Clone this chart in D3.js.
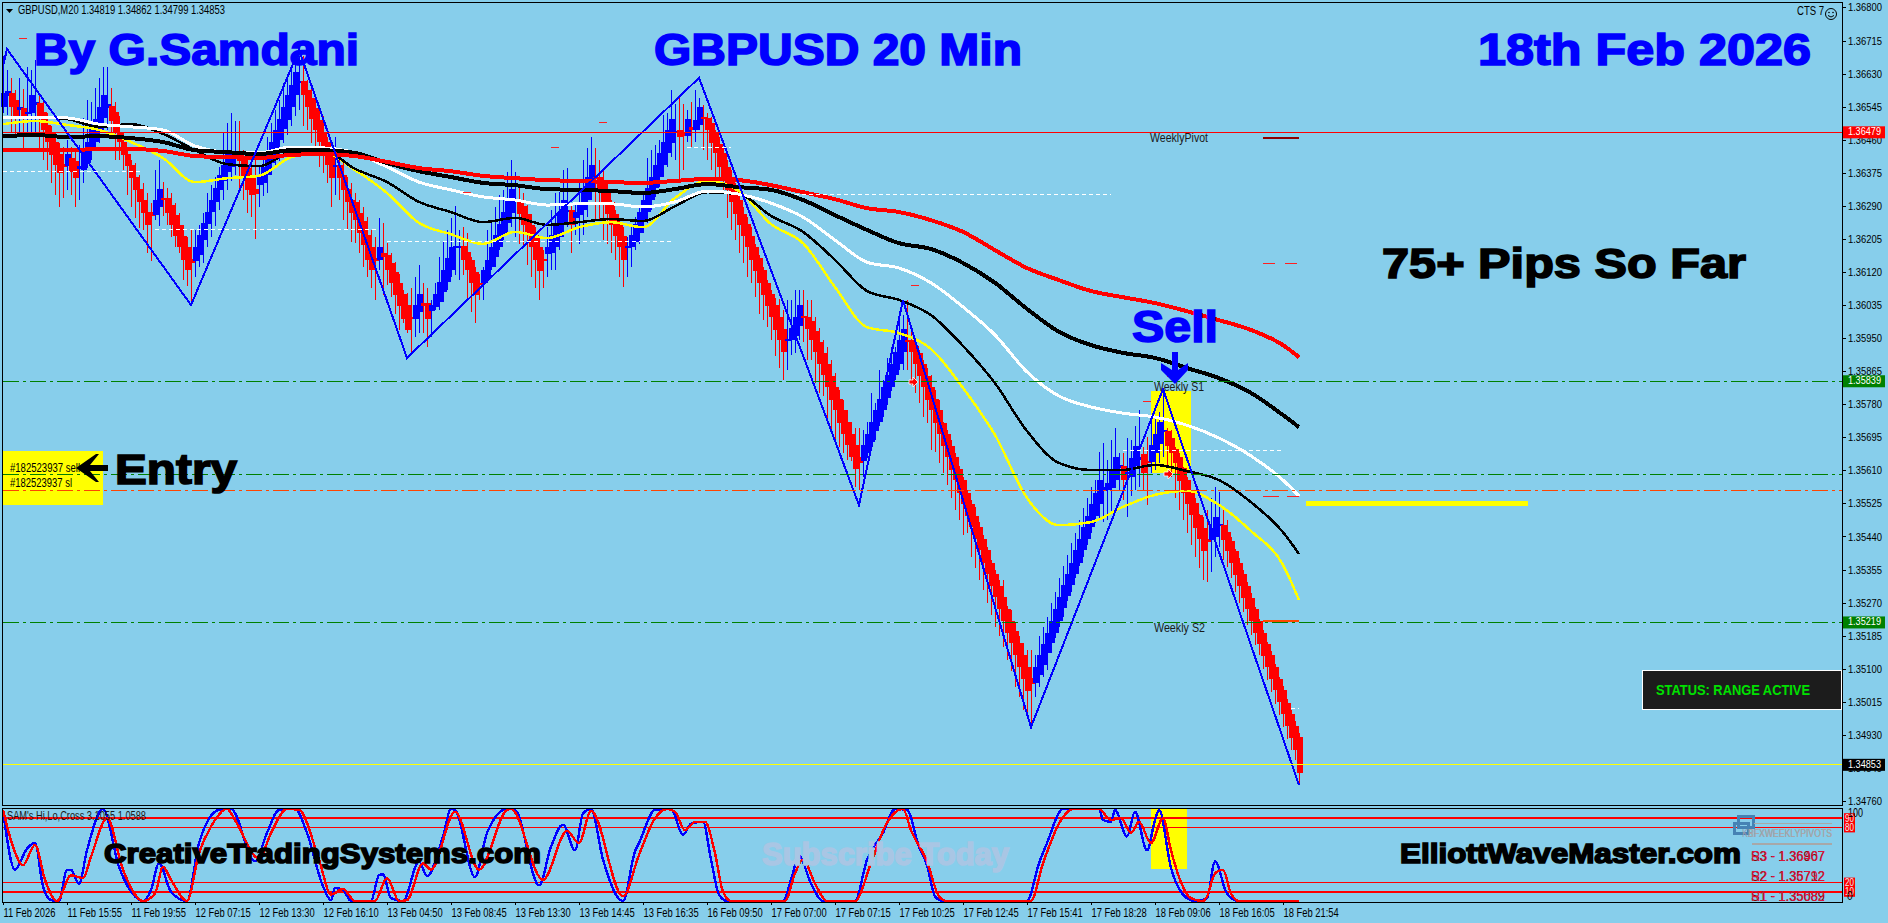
<!DOCTYPE html>
<html><head><meta charset="utf-8">
<script src="https://cdnjs.cloudflare.com/ajax/libs/d3/7.8.5/d3.min.js"></script>
<style>html,body{margin:0;padding:0;background:#87CEEB;overflow:hidden}svg{display:block}</style>
</head><body><svg id="c" width="1888" height="923"></svg>
<script>
// Prices in points above 1.30000 (6479 = 1.36479). One entry per 20-minute bar.
const bodyHi=[
6580,6586,6581,6562,6544,6541,6532,6575,6558,6554,
6532,6498,6477,6453,6424,6398,6424,6412,6404,6393,
6430,6455,6490,6513,6544,6575,6552,6547,6532,6481,
6453,6424,6395,6365,6333,6305,6275,6274,6305,6333,
6310,6310,6293,6267,6241,6213,6185,6153,6185,6215,
6245,6273,6305,6335,6370,6395,6424,6430,6421,6425,
6417,6387,6361,6333,6365,6391,6424,6453,6485,6513,
6545,6575,6601,6633,6610,6610,6588,6567,6541,6511,
6481,6453,6425,6395,6395,6370,6333,6305,6301,6271,
6250,6215,6185,6155,6185,6168,6164,6142,6120,6091,
6063,6035,6003,6035,6063,6039,6039,6035,6063,6095,
6125,6155,6185,6187,6187,6187,6172,6150,6120,6091,
6125,6152,6185,6215,6243,6275,6305,6332,6306,6303,
6289,6270,6241,6215,6185,6154,6185,6215,6241,6275,
6305,6279,6279,6275,6300,6330,6365,6395,6365,6363,
6348,6330,6300,6270,6243,6213,6186,6215,6243,6275,
6305,6335,6365,6395,6425,6455,6485,6512,6482,6485,
6480,6512,6492,6510,6543,6519,6516,6502,6480,6450,
6425,6390,6365,6330,6305,6270,6243,6213,6183,6155,
6125,6092,6063,6035,6004,5973,5947,5975,6004,6035,
6007,6005,5993,5967,5941,5911,5884,5853,5824,5793,
5764,5735,5704,5675,5645,5675,5704,5735,5765,5793,
5824,5855,5884,5915,5945,5973,5945,5945,5930,5911,
5884,5853,5824,5793,5764,5733,5704,5673,5644,5613,
5584,5553,5524,5493,5464,5433,5404,5373,5344,5313,
5284,5253,5224,5196,5166,5136,5104,5076,5104,5136,
5164,5193,5224,5253,5284,5316,5344,5373,5404,5433,
5464,5493,5524,5553,5584,5568,5577,5613,5644,5624,
5621,5607,5641,5673,5645,5652,5633,5675,5703,5735,
5714,5712,5692,5666,5645,5615,5585,5552,5525,5495,
5463,5433,5461,5491,5472,5469,5452,5429,5403,5373,
5343,5313,5283,5253,5223,5193,5163,5135,5104,5073,
5045,5012,4984,4953,4925];
const bodyLo=[
6545,6573,6544,6520,6537,6520,6528,6528,6550,6520,
6485,6453,6421,6395,6374,6391,6393,6378,6361,6384,
6381,6400,6434,6455,6481,6515,6541,6507,6481,6453,
6421,6393,6361,6331,6301,6271,6241,6263,6267,6287,
6305,6271,6241,6213,6185,6151,6125,6143,6147,6164,
6201,6244,6273,6301,6331,6353,6376,6389,6417,6404,
6361,6331,6318,6321,6344,6348,6370,6400,6434,6460,
6487,6511,6544,6575,6605,6575,6544,6513,6485,6453,
6442,6395,6361,6389,6361,6331,6301,6271,6254,6220,
6190,6151,6125,6149,6151,6158,6125,6091,6061,6032,
6000,5971,5998,6000,6018,6032,6000,6020,6031,6043,
6069,6095,6125,6181,6181,6152,6125,6091,6061,6086,
6091,6103,6133,6159,6185,6215,6245,6272,6303,6270,
6241,6215,6185,6152,6123,6150,6166,6168,6183,6211,
6245,6275,6241,6258,6266,6279,6305,6335,6361,6326,
6300,6270,6241,6213,6185,6150,6183,6185,6198,6219,
6249,6275,6305,6335,6365,6395,6425,6452,6479,6466,
6469,6469,6485,6485,6498,6512,6485,6452,6425,6390,
6365,6330,6300,6270,6241,6213,6183,6152,6123,6092,
6061,6032,6004,5971,5944,5913,5944,5944,5956,5980,
6004,5973,5944,5913,5884,5855,5824,5791,5764,5733,
5704,5675,5645,5613,5630,5635,5654,5684,5710,5735,
5764,5795,5825,5855,5884,5913,5942,5913,5884,5853,
5824,5791,5764,5733,5704,5673,5644,5611,5584,5553,
5524,5493,5464,5433,5404,5373,5344,5313,5284,5253,
5224,5193,5166,5136,5104,5073,5044,5061,5064,5084,
5110,5140,5166,5193,5224,5256,5286,5316,5344,5373,
5404,5433,5464,5493,5524,5556,5560,5564,5586,5616,
5584,5603,5594,5620,5637,5604,5628,5632,5654,5679,
5709,5672,5654,5628,5583,5552,5523,5495,5463,5433,
5403,5426,5431,5439,5469,5431,5403,5373,5341,5313,
5283,5253,5223,5193,5163,5133,5104,5073,5045,5015,
4984,4953,4922,4891,4832];
const highs=[
6674,6640,6618,6588,6618,6590,6648,6640,6665,6580,
6558,6528,6494,6477,6451,6442,6460,6442,6434,6447,
6515,6562,6558,6592,6618,6648,6648,6592,6558,6520,
6477,6434,6408,6400,6370,6348,6322,6297,6382,6408,
6352,6335,6322,6297,6271,6241,6211,6228,6228,6241,
6271,6322,6344,6365,6391,6477,6502,6528,6507,6507,
6434,6408,6391,6434,6391,6425,6468,6502,6537,6562,
6605,6627,6648,6657,6674,6674,6614,6597,6567,6545,
6520,6468,6442,6468,6434,6408,6365,6348,6322,6305,
6288,6262,6228,6211,6258,6245,6194,6168,6146,6116,
6073,6065,6078,6108,6138,6091,6078,6048,6091,6159,
6198,6228,6258,6289,6228,6236,6219,6159,6133,6116,
6133,6228,6253,6288,6318,6330,6378,6409,6378,6343,
6322,6292,6270,6236,6211,6176,6236,6279,6322,6326,
6382,6386,6296,6296,6356,6408,6438,6468,6438,6408,
6386,6352,6305,6279,6253,6236,6211,6236,6262,6292,
6318,6412,6433,6446,6459,6523,6528,6589,6553,6575,
6553,6536,6558,6588,6566,6549,6528,6519,6485,6468,
6442,6408,6382,6348,6322,6288,6262,6236,6193,6163,
6133,6099,6073,6053,6050,6023,6048,6048,6074,6074,
6074,6048,6048,6005,5975,5945,5928,5894,5860,5817,
5791,5765,5735,5718,5718,5714,5735,5808,5783,5868,
5843,5898,5928,5928,5997,6010,6048,5971,5933,5920,
5894,5873,5855,5817,5791,5735,5714,5688,5654,5620,
5594,5560,5534,5517,5478,5444,5414,5380,5354,5328,
5328,5260,5251,5217,5183,5166,5149,5149,5136,5183,
5208,5234,5268,5298,5333,5363,5393,5423,5448,5483,
5513,5538,5568,5586,5658,5680,5637,5688,5718,5654,
5654,5693,5688,5723,5765,5671,5697,5739,5748,5761,
5816,5718,5714,5671,5654,5619,5594,5559,5538,5499,
5491,5508,5538,5568,5555,5512,5482,5439,5409,5384,
5354,5324,5294,5259,5229,5199,5170,5145,5112,5080,
5055,5022,4994,4965,4935];
const lows=[
6528,6524,6477,6472,6477,6434,6477,6477,6477,6434,
6408,6382,6348,6318,6288,6310,6331,6318,6288,6305,
6348,6387,6408,6434,6451,6485,6485,6477,6408,6408,
6382,6318,6288,6258,6233,6228,6168,6147,6254,6237,
6263,6241,6211,6185,6168,6100,6083,6040,6108,6134,
6143,6185,6211,6237,6280,6305,6331,6353,6370,6322,
6305,6271,6262,6205,6288,6314,6322,6370,6391,6404,
6451,6472,6494,6520,6537,6494,6485,6451,6425,6391,
6374,6348,6288,6318,6305,6254,6228,6198,6194,6168,
6134,6108,6078,6048,6125,6061,6087,6056,6013,5971,
5988,5962,5911,5953,5962,5962,5928,5953,6022,6022,
6043,6073,6108,6112,6099,6112,6052,6018,5988,6048,
6048,6091,6125,6133,6176,6202,6219,6236,6211,6193,
6185,6138,6108,6078,6048,6078,6108,6125,6125,6176,
6211,6236,6168,6215,6193,6215,6262,6305,6253,6253,
6202,6193,6168,6150,6108,6082,6108,6133,6176,6193,
6219,6245,6279,6313,6339,6365,6390,6416,6408,6356,
6382,6455,6442,6455,6485,6433,6408,6382,6356,6348,
6322,6258,6228,6202,6168,6142,6108,6091,6056,6013,
5996,5979,5945,5903,5873,5843,5868,5907,5911,5945,
5941,5894,5894,5834,5808,5800,5744,5714,5688,5671,
5654,5637,5633,5568,5560,5594,5641,5671,5688,5723,
5748,5778,5813,5843,5868,5868,5868,5830,5808,5783,
5748,5731,5663,5658,5628,5603,5573,5538,5508,5483,
5444,5448,5388,5358,5328,5303,5268,5238,5208,5183,
5157,5123,5093,5054,5028,4994,4977,4951,5028,5054,
5080,5097,5140,5178,5208,5234,5273,5298,5333,5363,
5388,5418,5448,5474,5483,5478,5483,5500,5564,5560,
5534,5491,5543,5560,5568,5560,5521,5602,5611,5628,
5645,5615,5594,5538,5508,5482,5448,5418,5388,5358,
5328,5324,5349,5388,5414,5379,5362,5332,5298,5268,
5247,5212,5187,5161,5135,5100,5070,5040,5010,4980,
4950,4920,4890,4865,4800];
// bar ranges closing up; all others close down
const upRanges=[[0,1],[4,4],[6,8],[16,16],[19,26],[38,39],[48,58],[64,74],[83,83],[94,94],[103,104],[107,114],[120,128],[136,141],[143,147],[156,168],[171,171],[173,174],[196,199],[215,225],[258,279],[281,284],[287,290],[302,304]];

const zigzagBars=[0,1,47,74,101,174,214,225,257,290,324];
const zigzagVals=[6649,6693,6035,6691,5899,6619,5521,6048,4950,5819,4801];

// moving averages, read every 8 bars
const maBars=[0,8,16,24,32,40,48,56,64,72,80,88,96,104,112,120,128,136,144,152,160,168,176,184,192,200,208,216,224,232,240,248,256,264,272,280,288,296,304,312,320,324];
const maRed=[6433,6433,6433,6436,6436,6431,6418,6415,6413,6421,6423,6418,6403,6387,6379,6367,6361,6356,6354,6351,6349,6354,6359,6356,6343,6325,6307,6284,6274,6253,6223,6176,6130,6099,6071,6055,6040,6019,5996,5971,5932,5901];
const maBlackThick=[6469,6472,6467,6469,6464,6454,6433,6428,6423,6433,6433,6426,6400,6379,6364,6349,6343,6333,6331,6328,6323,6333,6346,6338,6331,6305,6266,6228,6194,6179,6143,6092,6025,5966,5932,5912,5899,5873,5847,5809,5752,5721];
const maWhite=[6516,6518,6516,6500,6493,6485,6444,6428,6426,6441,6439,6426,6390,6351,6331,6313,6305,6292,6295,6295,6287,6300,6328,6320,6297,6261,6202,6145,6130,6092,6030,5958,5863,5801,5773,5757,5747,5726,5693,5647,5585,5544];
const maBlackThin=[6518,6518,6513,6493,6500,6475,6433,6397,6392,6428,6433,6385,6351,6300,6274,6248,6259,6241,6248,6256,6251,6289,6325,6320,6264,6223,6151,6071,6048,6009,5930,5834,5711,5629,5611,5611,5624,5608,5585,5528,5451,5395];
const maYellow=[6500,6508,6498,6485,6454,6413,6351,6361,6367,6415,6428,6382,6323,6246,6217,6192,6223,6207,6235,6248,6235,6310,6354,6328,6243,6194,6081,5978,5963,5922,5822,5701,5539,5469,5477,5516,5547,5557,5521,5454,5367,5277];

// Hi-Lo cross oscillator turning points: bar, value
const oscBlue=[[0,99],[3,34],[6,57],[8,63],[10,16],[12,1],[14,0],[16,34],[17,34],[19,19],[21,55],[25,100],[29,37],[33,5],[35,0],[37,12],[39,41],[42,10],[46,0],[49,63],[54,99],[57,100],[63,43],[66,74],[69,99],[73,100],[76,74],[80,16],[82,1],[83,14],[85,12],[87,0],[92,0],[94,28],[95,29],[97,3],[100,0],[104,43],[106,27],[110,70],[112,100],[113,99],[118,26],[121,74],[126,100],[128,99],[134,17],[137,59],[140,83],[143,55],[145,95],[147,100],[150,45],[155,0],[158,54],[159,63],[163,99],[167,100],[170,72],[172,84],[175,86],[177,45],[179,7],[181,0],[195,0],[197,23],[199,49],[202,19],[205,0],[213,0],[216,45],[220,74],[223,100],[226,99],[229,59],[231,39],[233,5],[235,0],[256,0],[259,41],[261,63],[265,100],[274,100],[275,88],[277,86],[278,99],[281,70],[283,97],[286,55],[288,88],[289,99],[292,36],[296,3],[298,0],[301,3],[303,43],[306,8],[309,0],[324,0]];
const oscRed=[[0,99],[2,66],[5,39],[8,61],[10.5,23],[13.5,0],[17,28],[20,25],[22,48],[26,90],[30,34],[35,0],[38,8],[40,37],[42,23],[46,0],[49,52],[52,81],[56,100],[58,88],[64,46],[67,74],[71,100],[74,99],[79,45],[82,7],[85,13],[88,0],[93,0],[96,25],[99,0],[101,1],[105,41],[107,34],[113,97],[119,34],[126,99],[127,100],[135,23],[141,76],[144,63],[147,98],[155,5],[159,50],[163,90],[166,100],[168,97],[170.5,77],[173,86],[175.5,86],[178,52],[180,10],[182,0],[195.5,0],[198,30],[200,45],[203,19],[206,0],[213,0],[217,41],[220.5,81],[225,100],[227,77],[231,43],[234,5],[236,0],[257,0],[260,41],[264.5,88],[267.5,100],[274,100],[277,88],[279.5,90],[282,74],[284,86],[287,63],[290,90],[292,55],[294,26],[297,3],[300,0],[301,5],[303,30],[305,34],[307,8],[309,0],[324,0]];
const oscLevels=[90,80,20,10];

const priceTicks=[6800,6715,6630,6545,6460,6375,6290,6205,6120,6035,5950,5865,5780,5695,5610,5525,5440,5355,5270,5185,5100,5015,4930,4845,4760];
const timeTickBars=[0,16,32,48,64,80,96,112,128,144,160,176,192,208,224,240,256,272,288,304,320];
const timeLabels=["11 Feb 2026","11 Feb 15:55","11 Feb 19:55","12 Feb 07:15","12 Feb 13:30","12 Feb 16:10","13 Feb 04:50","13 Feb 08:45","13 Feb 13:30","13 Feb 14:45","13 Feb 16:35","16 Feb 09:50","17 Feb 07:00","17 Feb 07:15","17 Feb 10:25","17 Feb 12:45","17 Feb 15:41","17 Feb 18:28","18 Feb 09:06","18 Feb 16:05","18 Feb 21:54"];

const levelSolid=6479, levelBid=4853, levelGreenDash=[5839,5600,5219], levelOrange=5558;
const whiteSegments=[[6379,0,35],[6230,38,94],[6199,96,167],[6439,171,182],[6320,198,277],[5660,280,320],[4999,322,324]];
const redTicks=[[6719,4,6],[6505,149,151],[6441,137,139],[6325,115,117],[6086,227,229],[5788,285,287],[5850,291,293]];
const weeklyMarks=[[6464,"#8b0000",2,null],[6143,"#ff2020",1,"12 10"],[5544,"#ff2020",1,"16 8"],[5223,"#ff4500",2,null]];
const tags=[[6479,"#ff0000"],[5839,"#008000"],[5219,"#008000"],[4853,"#000000"]];
const FONT="'Liberation Sans',Arial,sans-serif", BG="#87CEEB";

const plot={l:2,t:2,r:1842,b:805}, sub={t:808,b:902};
const x=d3.scaleLinear().domain([0,324]).range([3,1299]);
const y=d3.scaleLinear().domain([6715,4760]).range([40.5,801]);
const yo=d3.scaleLinear().domain([0,100]).range([901,809]);
const fmt=v=>(1.3+v/1e5).toFixed(5);

const svg=d3.select("#c");
svg.append("rect").attr("width",1888).attr("height",923).attr("fill",BG);
const g=svg.append("g").attr("shape-rendering","crispEdges");

const isUp=i=>upRanges.some(r=>i>=r[0]&&i<=r[1]);
const fit=(sel,k)=>sel.each(function(){this.setAttribute("textLength",this.getComputedTextLength()*k);this.setAttribute("lengthAdjust","spacingAndGlyphs");});
function label(t,xp,yp,o={}){
  const e=svg.append("text").attr("x",xp).attr("y",yp).text(t)
    .attr("font-family",o.font||FONT).attr("font-size",o.size||12).attr("fill",o.fill||"#000")
    .attr("font-weight",o.weight||"normal").attr("dominant-baseline",o.base||"middle");
  if(o.k)fit(e,o.k);
  if(o.w)e.attr("textLength",o.w).attr("lengthAdjust","spacingAndGlyphs");
  if(o.stroke)e.attr("stroke",o.fill||"#000").attr("stroke-width",o.stroke);
  return e;
}
const big=(t,x0,x1,base,size,fill)=>label(t,x0,base,{size,fill,weight:"bold",w:x1-x0,base:"auto",stroke:1.6});

// highlight zones
g.append("rect").attr("x",3).attr("y",451).attr("width",100).attr("height",54).attr("fill","#ffff00");
g.append("rect").attr("x",1151).attr("y",391).attr("width",40).attr("height",82).attr("fill","#ffff00");
g.append("rect").attr("x",1151).attr("y",sub.t).attr("width",36).attr("height",61).attr("fill","#ffff00");

// "Subscribe Today" watermark sits under the oscillator
big("Subscribe Today",762,1009,865,32,"#a9c6e4");

// candles
const bars=d3.range(bodyHi.length);
g.append("g").selectAll("rect").data(bars).join("rect").attr("x",i=>Math.round(x(i))).attr("width",1)
  .attr("y",i=>y(highs[i])).attr("height",i=>y(lows[i])-y(highs[i])).attr("fill",i=>isUp(i)?"#0000ff":"#ff0000");
g.append("g").selectAll("rect").data(bars).join("rect").attr("x",i=>Math.round(x(i))-2).attr("width",6)
  .attr("y",i=>y(bodyHi[i])).attr("height",i=>Math.max(2,y(bodyLo[i])-y(bodyHi[i]))).attr("fill",i=>isUp(i)?"#0000ff":"#ff0000");

// moving averages
const maLine=d3.line().x((d,k)=>x(maBars[k])).y(d=>y(d)).curve(d3.curveMonotoneX);
[[maYellow,"#ffff00",2.5],[maBlackThin,"#000",2.5],[maWhite,"#fff",3],[maBlackThick,"#000",4],[maRed,"#ff0000",4]].forEach(([s,c,w])=>
  g.append("path").attr("d",maLine(s)).attr("fill","none").attr("stroke",c).attr("stroke-width",w));

// zigzag
const zz=d3.line().x((d,k)=>x(zigzagBars[k])).y(d=>y(d));
g.append("path").attr("d",zz(zigzagVals)).attr("fill","none").attr("stroke","#0000ff").attr("stroke-width",2);

// levels
const hline=(v,c,w,dash,b0,b1)=>g.append("line").attr("x1",b0==null?3:x(b0)).attr("x2",b1==null?plot.r:x(b1))
  .attr("y1",y(v)).attr("y2",y(v)).attr("stroke",c).attr("stroke-width",w).attr("stroke-dasharray",dash);
hline(levelSolid,"#ff0000",1);
levelGreenDash.forEach(v=>hline(v,"#008000",1,"16 4 3 4"));
hline(levelOrange,"#ff4500",1,"16 4 3 4");
hline(levelBid,"#ffff00",1);
whiteSegments.forEach(([v,a,b])=>hline(v,"#fff",1,"4 3",a,b));
redTicks.forEach(([v,a,b])=>hline(v,"#ff2020",1,null,a,b));
weeklyMarks.forEach(([v,c,w,d])=>hline(v,c,w,d,315,324));
g.append("line").attr("x1",1306).attr("x2",1528).attr("y1",y(5526)).attr("y2",y(5526)).attr("stroke","#ffff00").attr("stroke-width",5);

// oscillator
oscLevels.forEach(v=>g.append("line").attr("x1",3).attr("x2",plot.r).attr("y1",yo(v)).attr("y2",yo(v)).attr("stroke","#ff0000").attr("stroke-width",(v===90||v===10)?2:1));
const oscLine=d3.line().x(d=>x(d[0])).y(d=>yo(d[1])).curve(d3.curveMonotoneX);
g.append("path").attr("d",oscLine(oscBlue)).attr("fill","none").attr("stroke","#0000ff").attr("stroke-width",2.4);
g.append("path").attr("d",oscLine(oscRed)).attr("fill","none").attr("stroke","#ff0000").attr("stroke-width",2.4);

// frames
g.append("rect").attr("x",plot.l).attr("y",plot.t).attr("width",plot.r-plot.l).attr("height",plot.b-plot.t).attr("fill","none").attr("stroke","#000").attr("stroke-width",1);
g.append("rect").attr("x",plot.l).attr("y",sub.t).attr("width",plot.r-plot.l).attr("height",sub.b-sub.t).attr("fill","none").attr("stroke","#000").attr("stroke-width",1);

// axes
const axP=svg.append("g").attr("transform",`translate(${plot.r},0)`)
  .call(d3.axisRight(y).tickValues(priceTicks).tickFormat(fmt).tickSize(4).tickPadding(2));
axP.select(".domain").remove();
axP.selectAll("line").attr("stroke","#000").attr("shape-rendering","crispEdges");
axP.selectAll("text").attr("font-family",FONT).attr("font-size",11).attr("fill","#000").attr("textLength",34).attr("lengthAdjust","spacingAndGlyphs");

const axT=svg.append("g").attr("transform",`translate(0,${sub.b})`)
  .call(d3.axisBottom(x).tickValues(timeTickBars).tickFormat((d,k)=>timeLabels[k]).tickSize(3).tickPadding(3));
axT.select(".domain").remove();
axT.selectAll("line").attr("stroke","#000").attr("shape-rendering","crispEdges");
axT.selectAll("text").attr("font-family",FONT).attr("font-size",12).attr("fill","#000").attr("text-anchor","start");
fit(axT.selectAll("text"),0.78);

// price tags
tags.forEach(([v,c])=>{
  svg.append("rect").attr("x",1843).attr("y",y(v)-6).attr("width",42).attr("height",12).attr("fill",c);
  label(fmt(v),1848,y(v),{fill:"#fff",size:11,w:33});
});

// oscillator scale
[[90,"90"],[80,"80"],[20,"20"],[10,"10"]].forEach(([v,t])=>{
  svg.append("rect").attr("x",1844).attr("y",yo(v)-5).attr("width",11).attr("height",10).attr("fill","#ff0000");
  label(t,1845,yo(v)+0.5,{fill:"#e8e8e8",size:11,w:9});
});
label("100",1848,814,{w:15});
label("0",1847,897,{k:.85});

// text annotations
label("GBPUSD,M20  1.34819 1.34862 1.34799 1.34853",18,11,{w:207});
svg.append("path").attr("d",d3.line()([[6,9],[13,9],[9.5,13]])+"Z").attr("fill","#000");
label("CTS 7",1797,12,{w:27});
svg.append("g").attr("transform","translate(1831,14)").call(s=>{
  s.append("circle").attr("r",5.5).attr("fill","none").attr("stroke","#000");
  s.append("circle").attr("cx",-2).attr("cy",-1.5).attr("r",.8);
  s.append("circle").attr("cx",2).attr("cy",-1.5).attr("r",.8);
  s.append("path").attr("d","M-3,1.5Q0,4.5 3,1.5").attr("fill","none").attr("stroke","#000");
});
label("WeeklyPivot",1150,139,{fill:"#1a1a1a",w:58});
label("Weekly S1",1154,388,{fill:"#1a1a1a",w:50});
label("Weekly S2",1154,629,{fill:"#1a1a1a",w:51});
label("#182523937 sell",10,469,{w:70});
label("#182523937 sl",10,484,{w:62});
label("SAM's Hi,Lo,Cross 3.1055 1.0588",7,817,{fill:"#1a1a1a",w:139});

big("By G.Samdani",34,359,65,44,"#0000ff");
big("GBPUSD 20 Min",654,1022,65,44,"#0000ff");
big("18th Feb 2026",1478,1811,65,44,"#0000ff");
big("75+ Pips So Far",1382,1746,278,43,"#000");
big("Sell",1132,1218,342,44,"#0000ff");
big("Entry",115,237,484,43,"#000");
big("CreativeTradingSystems.com",104,541,863,28,"#000");
big("ElliottWaveMaster.com",1400,1741,863,28,"#000");

// sell arrow
svg.append("path").attr("d","M1172,352H1178V370L1188,363V370L1175,384L1161,370V363L1172,370Z").attr("fill","#0000ff");
// entry arrow
svg.append("path").attr("d","M76,468L96,454L99,454L90,465H108V471H90L99,482H96Z").attr("fill","#000");
// trade markers
[[913,382],[1168,474]].forEach(([a,b])=>svg.append("path").attr("d",`M${a-4},${b-2}h4v-3l5,5l-5,5v-3h-4Z`).attr("fill","#ff0000").attr("stroke","#fff").attr("stroke-width",.8));

// status box
svg.append("rect").attr("x",1642.5).attr("y",670.5).attr("width",199).attr("height",39).attr("fill","#1c1c1c").attr("stroke","#fff");
label("STATUS: RANGE ACTIVE",1656,691,{size:15,fill:"#00e000",weight:"bold",w:154});

// pivot panel overlay
const lg=svg.append("g").attr("shape-rendering","crispEdges");
lg.append("rect").attr("x",1738).attr("y",816).attr("width",15).attr("height",11).attr("fill","none").attr("stroke","#4682b4").attr("stroke-width",3);
lg.append("rect").attr("x",1734).attr("y",823).attr("width",14).attr("height",10).attr("fill","none").attr("stroke","#4682b4").attr("stroke-width",3);
lg.append("line").attr("x1",1754).attr("x2",1832).attr("y1",823).attr("y2",823).attr("stroke","#a8a8a8");
lg.append("line").attr("x1",1752).attr("x2",1832).attr("y1",844).attr("y2",844).attr("stroke","#a8a8a8").attr("stroke-width",2);
label("KBFXWEEKLYPIVOTS",1742,834,{fill:"#9a9aa8",size:10,w:90});
label("RFXWEEKLYPIVOTS",1748,834,{fill:"#a8a8a8",size:10,w:84});
[["R3 - 1.36407","S3 - 1.36967",857],["R2 - 1.36792","S2 - 1.35712",877],["R1 - 1.35682","S1 - 1.35089",897]].forEach(([a,b,yy])=>{
  label(b,1751,yy,{fill:"#8b0000",size:14,w:74});
  label(a,1751,yy,{fill:"#dc143c",size:14,w:74});
});
</script></body></html>
